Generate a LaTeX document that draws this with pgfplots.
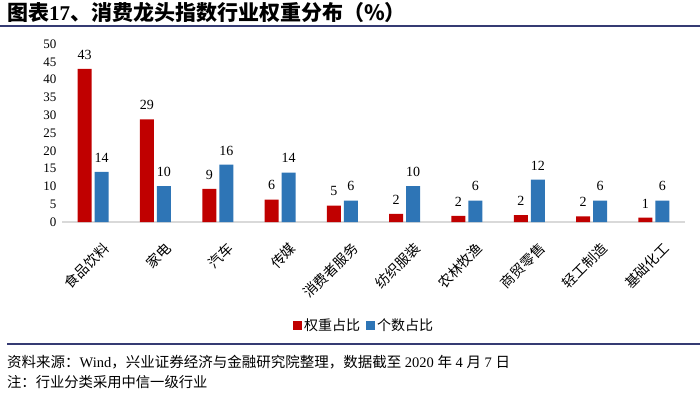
\documentclass[border=0pt]{standalone}
\usepackage{fontspec}
\setmainfont{Liberation Serif}
\newfontfamily\cjk{Noto Sans CJK SC}
\usepackage{pgfplots}
\pgfplotsset{compat=1.18}
\usepackage{pgfplotstable}

\definecolor{barred}{HTML}{C00000}
\definecolor{barblue}{HTML}{2E75B6}
\definecolor{navy}{HTML}{353B73}
\definecolor{basegray}{HTML}{D9D9D9}

% x: category index, w: 权重占比, n: 个数占比
\pgfplotstableread{
x w    n
0 43.0 14.1
1 28.8 10.1
2 9.3  16.1
3 6.3  13.9
4 4.6  6.0
5 2.3  10.1
6 1.7  6.0
7 1.9  11.9
8 1.6  6.0
9 1.2  6.0
}\data

\begin{document}
\begin{tikzpicture}[x=1bp,y=1bp]
\useasboundingbox (0,0) rectangle (700,405);

% title and rules
\node[anchor=west, inner sep=0, font=\bfseries\fontsize{21bp}{23bp}\selectfont]
    at (7,392) {{\cjk 图表}17{\cjk 、消费龙头指数行业权重分布（\%）}};
\draw[navy, line width=2.5bp] (0,379) -- (700,379);
\draw[navy, line width=2.3bp] (7,61) -- (700,61);

\begin{axis}[
    at={(62bp,183bp)}, anchor=south west,
    scale only axis,
    width=623bp, height=178bp,
    ybar=3bp, bar width=14bp,
    xmin=-0.5, xmax=9.5,
    ymin=0, ymax=50,
    ytick={0,5,...,50},
    xtick=data,
    xticklabels={食品饮料,家电,汽车,传媒,消费者服务,纺织服装,农林牧渔,商贸零售,轻工制造,基础化工},
    xticklabel style={font=\cjk\fontsize{14bp}{15bp}\selectfont, rotate=45,
        anchor=east, xshift=-4bp, yshift=-26bp},
    yticklabel style={font=\fontsize{13bp}{15bp}\selectfont, xshift=-2bp},
    /pgf/number format/assume math mode=true,
    axis x line*=bottom, axis y line*=left,
    x axis line style={basegray, line width=1.2bp},
    y axis line style={draw=none},
    major tick length=0,
    nodes near coords,
    nodes near coords style={font=\fontsize{14bp}{16bp}\selectfont, black,
        /pgf/number format/fixed, /pgf/number format/precision=0},
    every node near coord/.append style={anchor=south, yshift=6bp},
    legend style={at={(0.485,-0.58)}, anchor=center, draw=none,
        legend columns=2, font=\cjk\fontsize{14bp}{16bp}\selectfont,
        /tikz/every even column/.append style={column sep=4bp}},
    legend image code/.code={\fill[#1] (0bp,-4.5bp) rectangle (9bp,4.5bp);},
]
\addplot[fill=barred, draw=none] table[x=x, y=w] {\data};
\addlegendentry{权重占比}
\addplot[fill=barblue, draw=none] table[x=x, y=n] {\data};
\addlegendentry{个数占比}
\end{axis}

% footnotes
\node[anchor=west, inner sep=0, font=\fontsize{14.5bp}{16bp}\selectfont] at (7,43)
    {{\cjk 资料来源：}Wind{\cjk ，兴业证券经济与金融研究院整理，数据截至} 2020 {\cjk 年} 4 {\cjk 月} 7 {\cjk 日}};
\node[anchor=west, inner sep=0, font=\cjk\fontsize{14.3bp}{16bp}\selectfont] at (7,23)
    {注：行业分类采用中信一级行业};
\end{tikzpicture}
\end{document}
